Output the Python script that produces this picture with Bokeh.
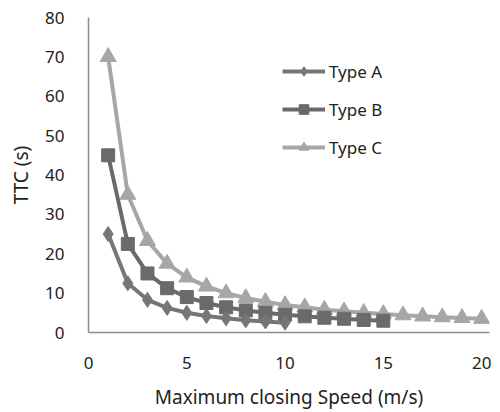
from bokeh.plotting import figure
from bokeh.models import Range1d, FixedTicker, Legend, LegendItem
from bokeh.embed import file_html
from bokeh.resources import INLINE

speed_a = [1, 2, 3, 4, 5, 6, 7, 8, 9, 10]
ttc_a = [25, 12.5, 8.3, 6.25, 5, 4.2, 3.6, 3.1, 2.8, 2.5]
speed_b = [1, 2, 3, 4, 5, 6, 7, 8, 9, 10, 11, 12, 13, 14, 15]
ttc_b = [45, 22.5, 15, 11.25, 9, 7.5, 6.4, 5.6, 5, 4.5, 4.1, 3.75, 3.5, 3.2, 3.0]
speed_c = [1, 2, 3, 4, 5, 6, 7, 8, 9, 10, 11, 12, 13, 14, 15, 16, 17, 18, 19, 20]
ttc_c = [70, 35, 23.3, 17.5, 14, 11.7, 10, 8.75, 7.8, 7, 6.4, 5.8, 5.4, 5, 4.7,
         4.4, 4.1, 3.9, 3.7, 3.5]
x_ticks = [0, 5, 10, 15, 20]
y_ticks = [0, 10, 20, 30, 40, 50, 60, 70, 80]

FONT = "Noto Sans"
col_a = "#767676"
col_b = "#6a6a6a"
col_c = "#a6a6a6"

p = figure(width=492, height=412, output_backend="svg", toolbar_location=None,
           x_range=Range1d(0, 20.4), y_range=Range1d(0, 80),
           min_border_left=88, min_border_right=3, min_border_top=17,
           min_border_bottom=80)
p.outline_line_color = None
p.xgrid.visible = False
p.ygrid.visible = False
p.background_fill_color = "white"
p.border_fill_color = "white"

for ax in (p.xaxis[0], p.yaxis[0]):
    ax.axis_line_color = "#8c8c8c"
    ax.axis_line_width = 1.5
    ax.major_tick_line_color = None
    ax.minor_tick_line_color = None
    ax.major_label_text_font = FONT
    ax.major_label_text_font_size = "17px"
    ax.major_label_text_color = "#222222"
    ax.axis_label_text_font = FONT
    ax.axis_label_text_font_size = "19px"
    ax.axis_label_text_font_style = "normal"
    ax.axis_label_text_color = "#222222"

p.xaxis.ticker = FixedTicker(ticks=x_ticks)
p.yaxis.ticker = FixedTicker(ticks=y_ticks)
p.xaxis.major_label_standoff = 18
p.yaxis.major_label_standoff = 18
p.xaxis.axis_label = "Maximum closing Speed (m/s)"
p.yaxis.axis_label = "TTC (s)"
p.xaxis.axis_label_standoff = 12
p.yaxis.axis_label_standoff = 8

lc = p.line(speed_c, ttc_c, line_color=col_c, line_width=4)
mc = p.scatter(speed_c, ttc_c, marker="triangle", size=16, fill_color=col_c, line_color=col_c)
lb = p.line(speed_b, ttc_b, line_color=col_b, line_width=4)
mb = p.scatter(speed_b, ttc_b, marker="square", size=13, fill_color=col_b, line_color=col_b)
la = p.line(speed_a, ttc_a, line_color=col_a, line_width=4)
ma = p.scatter(speed_a, ttc_a, marker="diamond", size=15, fill_color=col_a, line_color=col_a)

legend = Legend(items=[
    LegendItem(label="Type A", renderers=[la, ma]),
    LegendItem(label="Type B", renderers=[lb, mb]),
    LegendItem(label="Type C", renderers=[lc, mc]),
], location=(194, 173))
legend.background_fill_alpha = 0
legend.border_line_color = None
legend.glyph_width = 43
legend.glyph_height = 24
legend.label_height = 24
legend.spacing = 14
legend.padding = 0
legend.margin = 0
legend.label_standoff = 4
legend.label_text_font = FONT
legend.label_text_font_size = "17px"
legend.label_text_color = "#222222"
p.add_layout(legend, "center")

open("out.html", "w").write(file_html(p, INLINE))
